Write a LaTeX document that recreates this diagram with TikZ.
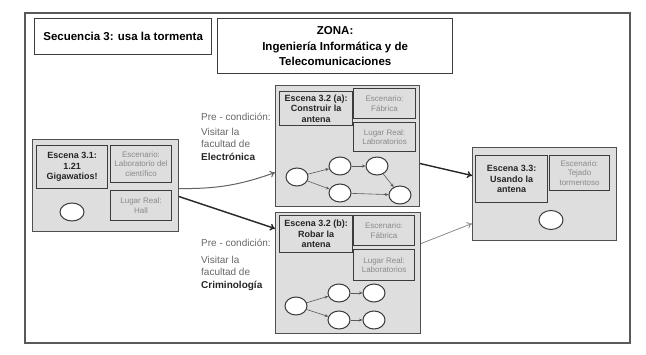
\documentclass[tikz,border=0pt]{standalone}
\usepackage{fontspec}
\setmainfont{Liberation Sans}
\usetikzlibrary{shapes.geometric,arrows.meta}

\definecolor{boxgray}{HTML}{DEDEDE}
\definecolor{linegray}{HTML}{3C3C3C}
\definecolor{textgray}{HTML}{8A8A8A}

\begin{document}
\begin{tikzpicture}
[
	x=1pt,y=-1pt,
	headbox/.style={draw=linegray,line width=1.3pt,fill=white,anchor=north west,inner sep=0pt,align=center,font=\bfseries\fontsize{11.5}{15.5}\selectfont},
	scene/.style={draw=linegray!90,line width=1.1pt,fill=boxgray,anchor=north west,inner sep=0pt},
	namebox/.style={draw=linegray,line width=1.1pt,fill=boxgray,anchor=north west,inner sep=0pt,align=center,text=black!85,font=\bfseries\fontsize{9}{10.5}\selectfont},
	infobox/.style={draw=linegray,line width=1.1pt,fill=boxgray,anchor=north west,inner sep=0pt,align=center,text=textgray,font=\fontsize{8}{9.5}\selectfont},
	state/.style={ellipse,draw=linegray,line width=1pt,fill=white,minimum width=22pt,minimum height=18pt,inner sep=0pt},
	small/.style={-{Stealth[length=3.5pt,width=3pt]},linegray!85,line width=0.6pt},
	flow/.style={-{To[length=5pt,width=7pt]},line width=1pt},
	note/.style={anchor=west,inner sep=0pt,text=black!60,font=\fontsize{10}{12.5}\selectfont,align=left}
]

	\useasboundingbox (0,0) rectangle (646,355);
	\draw[linegray!85,line width=1.4pt] (25,13) rectangle (630,343);

	\node[headbox,minimum width=177,minimum height=36] at (34,18) (seq) {Secuencia 3: usa la tormenta};
	\node[headbox,minimum width=235,minimum height=55] at (217,18) (zona) {ZONA:\\Ingeniería Informática y de\\Telecomunicaciones};

	% escena 3.1
	\node[scene,minimum width=146,minimum height=92] at (32,139) (s31) {};
	\node[namebox,minimum width=71,minimum height=43] at (36,145) (s31t) {Escena 3.1:\\1.21\\Gigawatios!};
	\node[infobox,minimum width=61,minimum height=37] at (110,145) (s31e) {Escenario:\\Laboratorio del\\científico};
	\node[infobox,minimum width=61,minimum height=30] at (110,190) (s31l) {Lugar Real:\\Hall};
	\node[state,minimum width=24] at (72,212) (s31c) {};

	% escena 3.2 (a)
	\node[scene,minimum width=144,minimum height=121] at (275,85) (s32a) {};
	\node[namebox,minimum width=73,minimum height=34] at (279,91) (s32at) {Escena 3.2 (a):\\Construir la\\antena};
	\node[infobox,minimum width=62,minimum height=30] at (353,88) (s32ae) {Escenario:\\Fábrica};
	\node[infobox,minimum width=62,minimum height=29] at (353,122) (s32al) {Lugar Real:\\Laboratorios};
	\node[state] at (297,177) (a1) {};
	\node[state] at (340,166) (a2) {};
	\node[state] at (377,166) (a3) {};
	\node[state] at (340,193) (a4) {};
	\node[state] at (400,195) (a5) {};
	\draw[small] (a1) -- (a2);
	\draw[small] (a1) -- (a4);
	\draw[small] (a2) -- (a3);
	\draw[small] (a3) -- (a5);
	\draw[small] (a4) -- (a5);

	% escena 3.2 (b)
	\node[scene,minimum width=145,minimum height=121] at (275,212) (s32b) {};
	\node[namebox,minimum width=73,minimum height=37] at (279,215) (s32bt) {Escena 3.2 (b):\\Robar la\\antena};
	\node[infobox,minimum width=61,minimum height=30] at (353,215) (s32be) {Escenario:\\Fábrica};
	\node[infobox,minimum width=61,minimum height=31] at (353,249) (s32bl) {Lugar Real:\\Laboratorios};
	\node[state] at (296,306) (b1) {};
	\node[state] at (339,293) (b2) {};
	\node[state] at (374,293) (b3) {};
	\node[state] at (339,320) (b4) {};
	\node[state] at (374,320) (b5) {};
	\draw[small] (b1) -- (b2);
	\draw[small] (b1) -- (b4);
	\draw[small] (b2) -- (b3);
	\draw[small] (b4) -- (b5);

	% escena 3.3
	\node[scene,minimum width=144,minimum height=93] at (472,147) (s33) {};
	\node[namebox,minimum width=72,minimum height=47] at (475,155) (s33t) {Escena 3.3:\\Usando la\\antena};
	\node[infobox,minimum width=60,minimum height=35] at (549,155) (s33e) {Escenario:\\Tejado\\tormentoso};
	\node[state,minimum width=24,minimum height=19] at (551,220) (s33c) {};

	% precondiciones
	\node[note] at (201,117) (prea) {Pre - condición:};
	\node[note,anchor=north west] at (201,128) (visa) {Visitar la\\facultad de\\\textbf{\color{black!85}Electrónica}};
	\node[note] at (201,243) (preb) {Pre - condición:};
	\node[note,anchor=north west] at (201,256) (visb) {Visitar la\\facultad de\\\textbf{\color{black!85}Criminología}};

	\draw[flow,linegray!80] ([yshift=-3pt]s31.east) to[bend right=10] ([yshift=-26.5pt]s32a.west);
	\draw[flow,black!85,line width=1.4pt] ([yshift=-11pt]s31.east) -- ([yshift=44.5pt]s32b.west);
	\draw[flow,black!85,line width=1.4pt] ([yshift=-17.5pt]s32a.east) -- ([yshift=18.5pt]s33.west);
	\draw[flow,linegray!60,line width=0.8pt] ([yshift=29.5pt]s32b.east) -- ([yshift=-29.5pt]s33.west);

\end{tikzpicture}
\end{document}
